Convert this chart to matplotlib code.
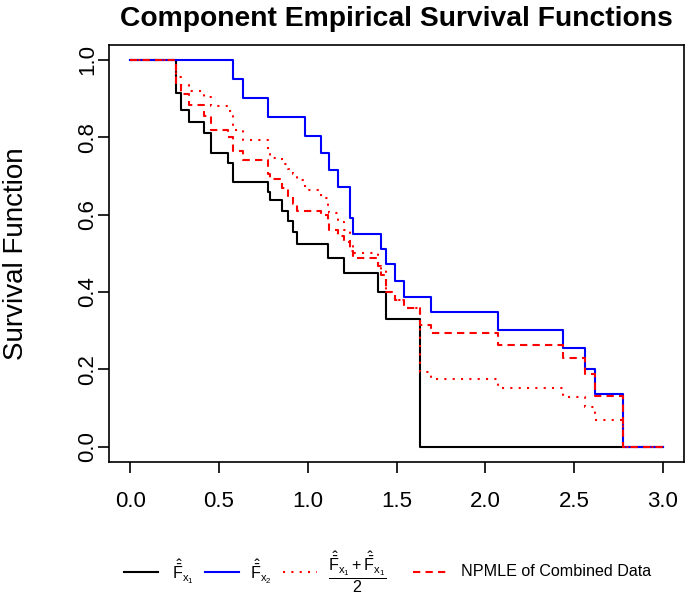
import matplotlib
matplotlib.use('Agg')
import matplotlib.pyplot as plt
from matplotlib.lines import Line2D

plt.rcParams['font.family'] = ['Liberation Sans', 'DejaVu Sans']
plt.rcParams['mathtext.fontset'] = 'custom'
plt.rcParams['mathtext.rm'] = 'Liberation Sans'
plt.rcParams['mathtext.it'] = 'Liberation Sans'
plt.rcParams['mathtext.bf'] = 'Liberation Sans:bold'

# --- data ---
# component 1 (black)
t_x1 = [0.256, 0.283, 0.331, 0.414, 0.452, 0.551, 0.58, 0.775, 0.79, 0.852,
        0.89, 0.918, 0.937, 1.113, 1.203, 1.393, 1.44, 1.632]
s_x1 = [0.914, 0.871, 0.840, 0.810, 0.759, 0.733, 0.685, 0.659, 0.638, 0.610,
        0.584, 0.556, 0.524, 0.489, 0.450, 0.401, 0.329, 0.0]

# component 2 (blue)
t_x2 = [0.58, 0.636, 0.775, 0.984, 1.072, 1.119, 1.168, 1.237, 1.256, 1.412,
        1.44, 1.491, 1.542, 1.692, 2.07, 2.436, 2.562, 2.62, 2.778]
s_x2 = [0.950, 0.901, 0.853, 0.804, 0.760, 0.716, 0.672, 0.591, 0.550, 0.510,
        0.472, 0.428, 0.388, 0.347, 0.302, 0.254, 0.201, 0.136, 0.0]

# average of the two (red dotted)
t_avg = [0.256, 0.283, 0.331, 0.414, 0.452, 0.551, 0.58, 0.636, 0.775, 0.79,
         0.852, 0.89, 0.918, 0.937, 0.984, 1.072, 1.113, 1.119, 1.168, 1.203,
         1.237, 1.256, 1.393, 1.412, 1.44, 1.491, 1.542, 1.632, 1.692, 2.07,
         2.436, 2.562, 2.62, 2.778]
s_avg = [0.957, 0.936, 0.920, 0.905, 0.880, 0.867, 0.818, 0.793, 0.756, 0.746,
         0.732, 0.719, 0.705, 0.689, 0.664, 0.642, 0.625, 0.603, 0.581, 0.561,
         0.521, 0.500, 0.476, 0.456, 0.401, 0.379, 0.359, 0.194, 0.174, 0.151,
         0.127, 0.101, 0.068, 0.0]

# NPMLE of combined data (red dashed)
t_comb = [0.256, 0.283, 0.331, 0.414, 0.452, 0.551, 0.58, 0.636, 0.775, 0.79,
          0.852, 0.89, 0.918, 0.937, 1.072, 1.113, 1.119, 1.168, 1.203, 1.237,
          1.256, 1.393, 1.412, 1.44, 1.491, 1.542, 1.632, 1.692, 2.07, 2.436,
          2.562, 2.62, 2.778]
s_comb = [0.94, 0.911, 0.884, 0.855, 0.819, 0.80, 0.765, 0.741, 0.705, 0.692,
          0.67, 0.645, 0.628, 0.610, 0.60, 0.58, 0.56, 0.545, 0.53, 0.505,
          0.489, 0.468, 0.445, 0.401, 0.38, 0.358, 0.315, 0.293, 0.263, 0.230,
          0.188, 0.132, 0.0]

x_ticks = [0.0, 0.5, 1.0, 1.5, 2.0, 2.5, 3.0]
y_ticks = [0.0, 0.2, 0.4, 0.6, 0.8, 1.0]
x_end = 3.0


def steps(t, s):
    return [0.0] + t + [x_end], [1.0] + s + [s[-1]]


W, H = 685, 595
fig = plt.figure(figsize=(W / 100, H / 100), dpi=100)
ax = fig.add_axes([109 / W, 1 - 462 / H, (684 - 109) / W, (462 - 44.5) / H])

lw = 1.5
x, y = steps(t_x1, s_x1)
ax.step(x, y, where='post', color='black', lw=lw)
x, y = steps(t_x2, s_x2)
ax.step(x, y, where='post', color='blue', lw=lw)
x, y = steps(t_avg, s_avg)
ax.step(x, y, where='post', color='red', lw=lw, linestyle=(0, (1, 3)))
x, y = steps(t_comb, s_comb)
ax.step(x, y, where='post', color='red', lw=lw, linestyle=(0, (3.5, 2.5)))

ax.set_xlim(-0.12, 3.12)
ax.set_ylim(-0.04, 1.04)
ax.set_xticks(x_ticks)
ax.set_xticklabels(['%.1f' % v for v in x_ticks])
ax.set_yticks(y_ticks)
ax.set_yticklabels(['%.1f' % v for v in y_ticks], rotation=90, va='center')
ax.tick_params(direction='out', length=8, width=1.2, labelsize=16)
ax.tick_params(axis='x', pad=13)
ax.tick_params(axis='y', pad=0)
for sp in ax.spines.values():
    sp.set_linewidth(1.2)

ax.set_ylabel('Survival Function', fontsize=20)
ax.yaxis.set_label_coords((29 - 109) / 575, 0.5)

fig.text(396.5 / W, 1 - 26 / H, 'Component Empirical Survival Functions',
         ha='center', va='baseline', fontsize=20.3, fontweight='bold')

# --- legend row below the plot ---
leg_y = 1 - 572 / H
hat1 = r'$\hat{\bar{\mathrm{F}}}_{\mathrm{x_1}}$'
hat2 = r'$\hat{\bar{\mathrm{F}}}_{\mathrm{x_2}}$'
frac = r'$\dfrac{\hat{\bar{\mathrm{F}}}_{\mathrm{x_1}}+\hat{\bar{\mathrm{F}}}_{\mathrm{x_1}}}{2}$'
items = [
    (124, 158, 'black', '-', 172, hat1),
    (205, 239, 'blue', '-', 250, hat2),
    (283, 317, 'red', (0, (1, 3)), 328, frac),
    (413, 447, 'red', (0, (3.5, 2.5)), 461, 'NPMLE of Combined Data'),
]
for x0, x1, c, ls, tx, lab in items:
    fig.add_artist(Line2D([x0 / W, x1 / W], [leg_y, leg_y], color=c,
                          lw=lw, linestyle=ls, transform=fig.transFigure))
    fig.text(tx / W, leg_y, lab, ha='left', va='center', fontsize=11.6)

fig.savefig('out.png', dpi=100)
